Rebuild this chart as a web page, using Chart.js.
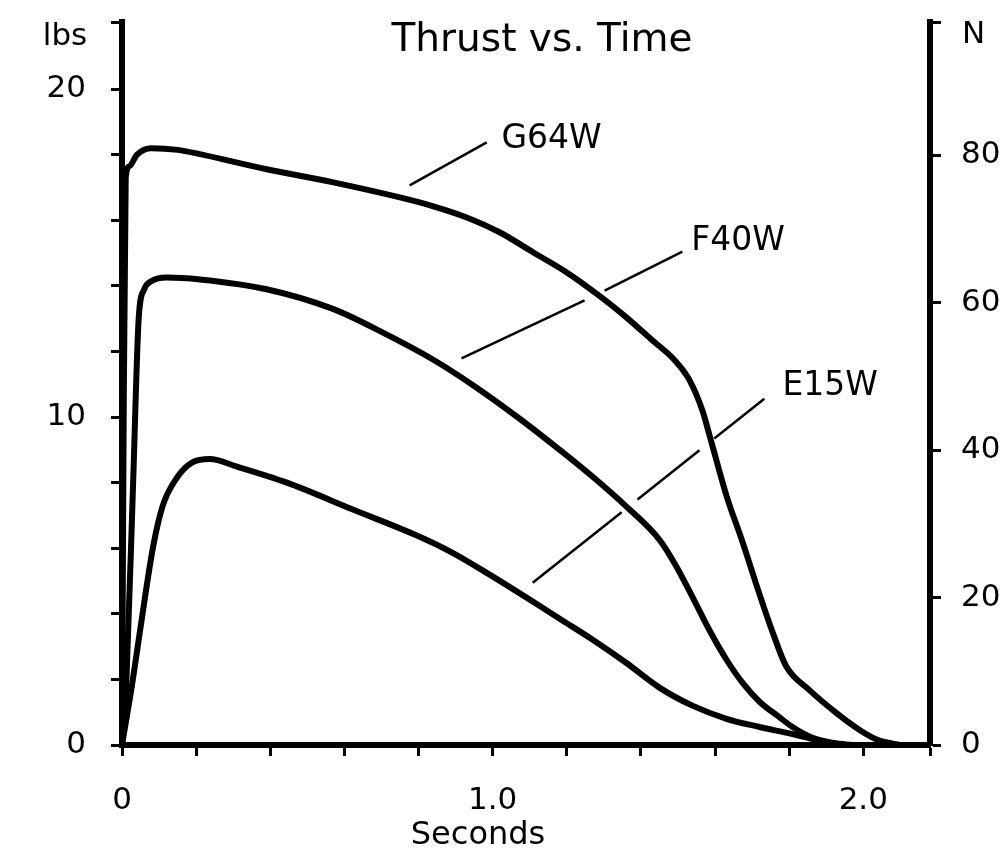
<!DOCTYPE html>
<html>
<head>
<meta charset="utf-8">
<title>Thrust vs. Time</title>
<script src="https://cdn.jsdelivr.net/npm/chart.js@4.4.1/dist/chart.umd.min.js"></script>
<style>
    html, body { margin: 0; padding: 0; background: #fff; }
    #wrap { width: 1002px; height: 856px; }
</style>
</head>
<body>
<div id="wrap"><canvas id="thrustChart" width="1002" height="856"></canvas></div>
<script>
// motor thrust curves, seconds vs. pounds
const g64Time = [0, 0.004, 0.01, 0.02, 0.04, 0.08, 0.15, 0.21, 0.39, 0.57, 0.75, 0.84, 0.93, 1.02, 1.11, 1.2, 1.29, 1.36, 1.43, 1.49, 1.53, 1.566, 1.585, 1.631, 1.674, 1.72, 1.755, 1.792, 1.854, 1.927, 1.99, 2.04, 2.1];
const g64Lbs = [0, 9, 17.3, 17.65, 18.0, 18.2, 18.15, 18.02, 17.56, 17.16, 16.70, 16.43, 16.09, 15.63, 15.02, 14.41, 13.68, 13.05, 12.35, 11.75, 11.15, 10.2, 9.45, 7.6, 6.2, 4.6, 3.45, 2.4, 1.68, 0.98, 0.46, 0.15, 0];

const f40Time = [0, 0.012, 0.03, 0.045, 0.06, 0.08, 0.12, 0.21, 0.39, 0.569, 0.70, 0.84, 0.95, 1.073, 1.181, 1.27, 1.361, 1.45, 1.496, 1.539, 1.585, 1.631, 1.674, 1.72, 1.77, 1.809, 1.863, 1.92, 1.97];
const f40Lbs = [0, 2, 8, 13, 13.9, 14.15, 14.26, 14.2, 13.9, 13.3, 12.6, 11.75, 10.95, 9.95, 9.0, 8.18, 7.27, 6.26, 5.44, 4.52, 3.5, 2.6, 1.9, 1.32, 0.88, 0.55, 0.22, 0.06, 0];

const e15Time = [0, 0.027, 0.049, 0.084, 0.11, 0.148, 0.19, 0.237, 0.31, 0.445, 0.623, 0.803, 0.892, 0.984, 1.119, 1.181, 1.27, 1.361, 1.45, 1.539, 1.631, 1.72, 1.809, 1.863, 1.92, 1.95];
const e15Lbs = [0, 1.83, 3.51, 6.05, 7.3, 8.15, 8.62, 8.72, 8.49, 8.0, 7.18, 6.35, 5.86, 5.25, 4.3, 3.85, 3.21, 2.5, 1.75, 1.2, 0.8, 0.55, 0.33, 0.18, 0.05, 0];

// label leader lines (null = break where the line crosses a curve)
const g64LeaderTime = [0.776, 0.984];
const g64LeaderLbs = [17.07, 18.38];
const f40LeaderTime = [0.916, 1.248, 1.275, 1.302, 1.512];
const f40LeaderLbs = [11.79, 13.56, null, 13.86, 15.05];
const e15LeaderTime = [1.108, 1.348, 1.37, 1.391, 1.558, 1.578, 1.598, 1.733];
const e15LeaderLbs = [4.95, 7.10, null, 7.49, 8.99, null, 9.35, 10.56];

// label anchors (seconds, lbs)
const motorNames = ['G64W', 'F40W', 'E15W'];
const labelTime = [1.024, 1.536, 1.782];
const labelLbs = [18.47, 15.36, 10.93];

const X_MAX = 2.18;
const LBS_MAX = 22.05;
const LBS_TO_N = 4.44822;

// tick marks and which of them carry a label
const xTicks = [0, 0.2, 0.4, 0.6, 0.8, 1.0, 1.2, 1.4, 1.6, 1.8, 2.0, X_MAX];
const xTickLabels = ['0', '', '', '', '', '1.0', '', '', '', '', '2.0', ''];
const lbsTicks = [0, 2, 4, 6, 8, 10, 12, 14, 16, 18, 20, LBS_MAX];
const lbsTickLabels = ['0', '', '', '', '', '10', '', '', '', '', '20', ''];
const newtonTicks = [0, 20, 40, 60, 80, LBS_MAX * LBS_TO_N];
const newtonTickLabels = ['0', '20', '40', '60', '80', ''];

const FONT = '"DejaVu Sans", sans-serif';

function toPoints(xs, ys) {
    return xs.map((x, i) => ({ x: x, y: ys[i] }));
}

function curve(xs, ys) {
    return {
        data: toPoints(xs, ys),
        borderColor: '#000',
        borderWidth: 6,
        pointRadius: 0,
        fill: false,
        cubicInterpolationMode: 'monotone',
        yAxisID: 'y'
    };
}

function leader(xs, ys) {
    return {
        data: toPoints(xs, ys),
        borderColor: '#000',
        borderWidth: 2.5,
        pointRadius: 0,
        fill: false,
        spanGaps: false,
        tension: 0,
        yAxisID: 'y'
    };
}

const textPlugin = {
    id: 'chartTexts',
    afterDraw(chart) {
        const { ctx, scales } = chart;
        ctx.save();
        ctx.fillStyle = '#000';
        ctx.textBaseline = 'middle';

        ctx.font = '39px ' + FONT;
        ctx.textAlign = 'center';
        ctx.fillText('Thrust vs. Time', 542, 41);

        ctx.font = '31px ' + FONT;
        ctx.fillText('lbs', 65, 37);
        ctx.textAlign = 'left';
        ctx.fillText('N', 962, 35);

        ctx.font = '32px ' + FONT;
        ctx.textAlign = 'center';
        ctx.fillText('Seconds', 478, 836);

        ctx.font = '33px ' + FONT;
        ctx.textAlign = 'left';
        motorNames.forEach((name, i) => {
            ctx.fillText(name, scales.x.getPixelForValue(labelTime[i]), scales.y.getPixelForValue(labelLbs[i]));
        });
        ctx.restore();
    }
};

const axisGrid = {
    drawOnChartArea: false,
    drawTicks: true,
    tickLength: 11,
    tickWidth: 3,
    tickColor: '#000'
};
const axisBorder = { display: true, color: '#000', width: 6 };

function fixedTicks(values, labels) {
    return {
        afterBuildTicks(scale) { scale.ticks = values.map(v => ({ value: v })); },
        label: (v) => {
            const i = values.findIndex(t => Math.abs(t - v) < 1e-6);
            return i >= 0 ? labels[i] : '';
        }
    };
}

const xFix = fixedTicks(xTicks, xTickLabels);
const lbsFix = fixedTicks(lbsTicks, lbsTickLabels);
const nFix = fixedTicks(newtonTicks, newtonTickLabels);

new Chart(document.getElementById('thrustChart'), {
    type: 'line',
    data: {
        datasets: [
            curve(g64Time, g64Lbs),
            curve(f40Time, f40Lbs),
            curve(e15Time, e15Lbs),
            leader(g64LeaderTime, g64LeaderLbs),
            leader(f40LeaderTime, f40LeaderLbs),
            leader(e15LeaderTime, e15LeaderLbs)
        ]
    },
    options: {
        responsive: false,
        animation: false,
        layout: { padding: { top: 22, left: 0, right: 0, bottom: 0 } },
        plugins: {
            legend: { display: false },
            title: { display: false },
            tooltip: { enabled: false }
        },
        scales: {
            x: {
                type: 'linear',
                min: 0,
                max: X_MAX,
                grid: axisGrid,
                border: axisBorder,
                afterBuildTicks: xFix.afterBuildTicks,
                afterFit(scale) {
                    scale.height = 111;
                    scale.paddingLeft = 0;
                    scale.paddingRight = 0;
                },
                ticks: {
                    autoSkip: false,
                    maxRotation: 0,
                    padding: 26,
                    color: '#000',
                    font: { family: FONT, size: 31 },
                    callback: xFix.label
                }
            },
            y: {
                type: 'linear',
                position: 'left',
                min: 0,
                max: LBS_MAX,
                grid: axisGrid,
                border: axisBorder,
                afterBuildTicks: lbsFix.afterBuildTicks,
                afterFit(scale) {
                    scale.width = 122;
                    scale.paddingTop = 0;
                    scale.paddingBottom = 0;
                },
                ticks: {
                    autoSkip: false,
                    padding: 25,
                    color: '#000',
                    font: { family: FONT, size: 31 },
                    callback: lbsFix.label
                }
            },
            yN: {
                type: 'linear',
                position: 'right',
                min: 0,
                max: LBS_MAX * LBS_TO_N,
                grid: axisGrid,
                border: axisBorder,
                afterBuildTicks: nFix.afterBuildTicks,
                afterFit(scale) {
                    scale.width = 72;
                    scale.paddingTop = 0;
                    scale.paddingBottom = 0;
                },
                ticks: {
                    autoSkip: false,
                    padding: 20,
                    color: '#000',
                    font: { family: FONT, size: 31 },
                    callback: nFix.label
                }
            }
        }
    },
    plugins: [textPlugin]
});
</script>
</body>
</html>
